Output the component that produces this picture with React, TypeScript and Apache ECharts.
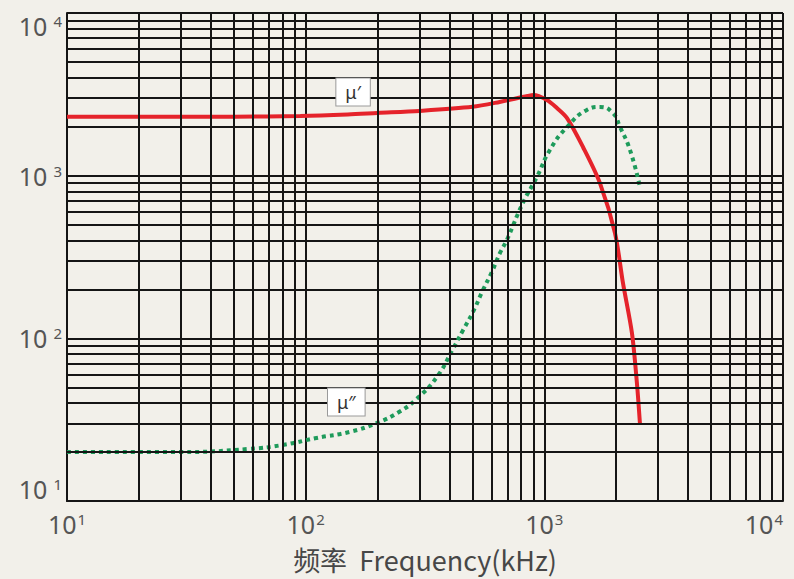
import React, { useEffect, useRef } from "react";
import * as echarts from "echarts";

// μ′ (real part) – frequency in kHz, permeability
const muPrimeFreq = [10, 20, 50, 95, 150, 200, 300, 500, 650, 850, 900, 1025, 1129, 1245, 1452, 1710, 1977, 2135, 2328, 2443, 2515];
const muPrimeVal = [2300, 2300, 2305, 2330, 2380, 2430, 2500, 2650, 2840, 3090, 3130, 2920, 2606, 2260, 1500, 900, 444, 219, 108, 53, 30];

// μ″ (imaginary part)
const muDoubleFreq = [10, 30, 58, 80, 111, 153, 199, 248, 292, 355, 414, 456, 502, 553, 603, 652, 697, 813, 931, 1055, 1245, 1508, 1710, 1936, 2075, 2285, 2515];
const muDoubleVal = [20, 20, 20.9, 22.1, 24.4, 26.6, 30.2, 35.5, 42.5, 58, 86, 112, 145, 198, 256, 335, 403, 680, 982, 1439, 1991, 2536, 2644, 2427, 1991, 1439, 853];

const xDecades = [10, 100, 1000];
const yDecades = [10, 100, 1000];
const minorSteps = [2, 3, 4, 5, 6, 7, 8, 9];

const labelMuPrime = { text: "μ′", freq: 158, value: 3269 };
const labelMuDouble = { text: "μ″", freq: 148, value: 40.6 };

const xAxisName = "频率  Frequency(kHz)";

export default function App() {
  const ref = useRef<HTMLDivElement>(null);
  useEffect(() => {
    if (!ref.current) return;
    const chart = echarts.init(ref.current, null, { renderer: "svg" });
    const gridColor = "#151515";
    const minorLines: any[] = [];
    xDecades.forEach((d) => minorSteps.forEach((k) => minorLines.push({ xAxis: d * k })));
    yDecades.forEach((d) => minorSteps.forEach((k) => minorLines.push({ yAxis: d * k })));

    const fmt = (v: number) => `{b|10}{s|${Math.round(Math.log10(v))}}`;
    const labelText = "#555";

    const boxLabel = (t: string) => ({
      show: true,
      position: "inside",
      formatter: t,
      backgroundColor: "#ffffff",
      borderColor: "#9a9a9a",
      borderWidth: 1,
      padding: [5, 9, 4, 9],
      fontSize: 18,
      color: "#333",
      fontFamily: "Noto Sans",
    });

    chart.setOption({
      animation: false,
      backgroundColor: "#f2f0ea",
      grid: { left: 67, top: 13, right: 11, bottom: 78, containLabel: false, outerBoundsMode: "none" },
      xAxis: {
        type: "log",
        logBase: 10,
        min: 10,
        max: 10000,
        axisLine: { show: true, lineStyle: { color: gridColor, width: 2 } },
        axisTick: { show: false },
        splitLine: { show: true, lineStyle: { color: gridColor, width: 2 } },
        axisLabel: {
          margin: 10,
          formatter: fmt,
          alignMaxLabel: "right",
          rich: {
            b: { fontSize: 25, color: labelText, fontFamily: "Noto Sans" },
            s: { fontSize: 15, color: labelText, fontFamily: "Noto Sans", verticalAlign: "top", padding: [0, 0, 6, 1] },
          },
        },
        name: xAxisName,
        nameLocation: "middle",
        nameGap: 43,
        nameTextStyle: { fontSize: 27, color: "#474747", fontFamily: "Noto Sans CJK SC", lineHeight: 30 },
      },
      yAxis: {
        type: "log",
        logBase: 10,
        min: 10,
        max: 10000,
        axisLine: { show: true, lineStyle: { color: gridColor, width: 2 } },
        axisTick: { show: false },
        splitLine: { show: true, lineStyle: { color: gridColor, width: 2 } },
        axisLabel: {
          margin: 5,
          formatter: fmt,
          verticalAlignMinLabel: "bottom",
          verticalAlignMaxLabel: "top",
          rich: {
            b: { fontSize: 25, color: labelText, fontFamily: "Noto Sans" },
            s: { fontSize: 15, color: labelText, fontFamily: "Noto Sans", verticalAlign: "top", padding: [0, 0, 6, 6] },
          },
        },
      },
      series: [
        {
          type: "line",
          data: [],
          z: 1,
          silent: true,
          markLine: {
            silent: true,
            symbol: ["none", "none"],
            label: { show: false },
            lineStyle: { color: gridColor, width: 2, type: "solid" },
            emphasis: { disabled: true },
            data: minorLines,
          },
        },
        {
          name: "μ′",
          type: "line",
          z: 3,
          smooth: 0.3,
          showSymbol: false,
          lineStyle: { color: "#e5232b", width: 4 },
          data: muPrimeFreq.map((f, i) => [f, muPrimeVal[i]]),
          markPoint: {
            symbolSize: 0,
            z: 5,
            data: [{ coord: [labelMuPrime.freq, labelMuPrime.value], label: boxLabel(labelMuPrime.text) }],
          },
        },
        {
          name: "μ″",
          type: "line",
          z: 4,
          smooth: 0.5,
          showSymbol: false,
          lineStyle: { color: "#1e9b5b", width: 4, type: [4, 4], cap: "butt" },
          data: muDoubleFreq.map((f, i) => [f, muDoubleVal[i]]),
          markPoint: {
            symbolSize: 0,
            z: 5,
            data: [{ coord: [labelMuDouble.freq, labelMuDouble.value], label: boxLabel(labelMuDouble.text) }],
          },
        },
      ],
    });
    return () => chart.dispose();
  }, []);
  return (
    <div
      ref={ref}
      style={{ position: "fixed", left: 0, top: 0, width: 794, height: 579 }}
    />
  );
}
